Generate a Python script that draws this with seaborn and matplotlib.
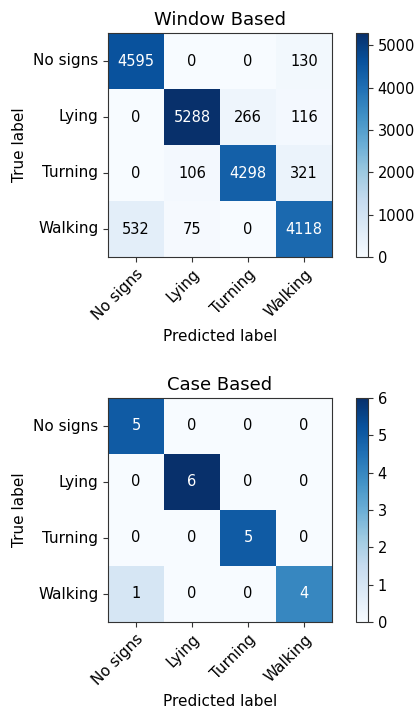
import matplotlib
matplotlib.use("Agg")
import matplotlib.pyplot as plt
import seaborn as sns
import numpy as np
import pandas as pd

classes = ["No signs", "Lying", "Turning", "Walking"]
window_counts = [
    [4595, 0, 0, 130],
    [0, 5288, 266, 116],
    [0, 106, 4298, 321],
    [532, 75, 0, 4118],
]
case_counts = [
    [5, 0, 0, 0],
    [0, 6, 0, 0],
    [0, 0, 5, 0],
    [1, 0, 0, 4],
]
titles = ["Window Based", "Case Based"]

W, H = 416, 709
fig = plt.figure(figsize=(W / 100, H / 100), dpi=100)

def draw(data, title, top_px):
    ax = fig.add_axes([108 / W, 1 - (top_px + 224) / H, 224 / W, 224 / H])
    cax = fig.add_axes([356 / W, 1 - (top_px + 224) / H, 12 / W, 224 / H])
    df = pd.DataFrame(np.array(data), index=classes, columns=classes)
    vmax = df.values.max()
    sns.heatmap(df, ax=ax, cbar_ax=cax, cmap="Blues", vmin=0, vmax=vmax,
                annot=False, square=False)
    for i in range(len(classes)):
        for j in range(len(classes)):
            v = df.values[i, j]
            ax.text(j + 0.5, i + 0.5, f"{v:d}", ha="center", va="center",
                    fontsize=10.5, color="white" if v > vmax / 2 else "black")
    for s in ax.spines.values():
        s.set_visible(True)
        s.set_linewidth(0.8)
        s.set_color("#333333")
    ax.tick_params(length=3.5, width=0.8, color="#333333")
    ax.set_title(title, fontsize=13)
    ax.set_xlabel("Predicted label", fontsize=11)
    ax.set_ylabel("True label", fontsize=11)
    ax.set_xticklabels(classes, rotation=45, ha="right", rotation_mode="anchor",
                       fontsize=11)
    ax.set_yticklabels(classes, rotation=0, fontsize=11)
    cb = ax.collections[0].colorbar
    cb.outline.set_visible(True)
    cb.outline.set_linewidth(0.8)
    cb.outline.set_edgecolor("#333333")
    cax.tick_params(labelsize=10.5, length=3.5, width=0.8, color="#333333")

draw(window_counts, titles[0], 33)
draw(case_counts, titles[1], 398)

fig.savefig("out.png", dpi=100)
